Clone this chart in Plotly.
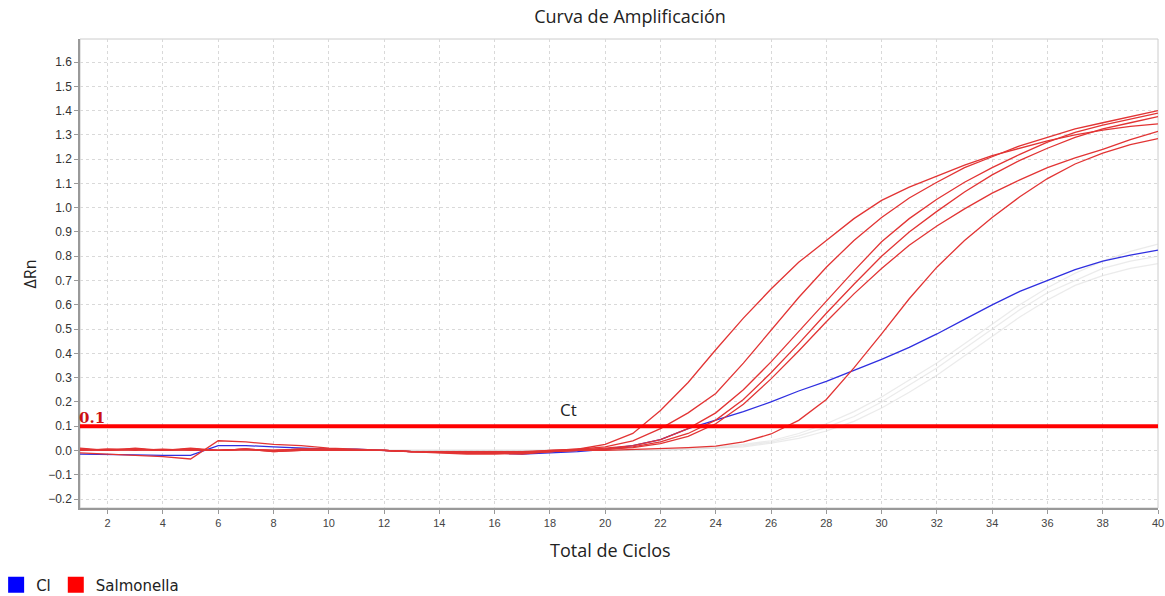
import plotly.graph_objects as go

cycles = list(range(1, 41))

salm_a = [0.01, 0.0, 0.01, 0.0, 0.01, 0.0, 0.005, 0.0, 0.005, 0.005, 0.0, 0.0, -0.005, -0.005, -0.008, -0.008, -0.005, 0.0, 0.005,
          0.025, 0.07, 0.165, 0.28, 0.415, 0.545, 0.665, 0.775, 0.865, 0.955, 1.03, 1.085, 1.13, 1.175, 1.215, 1.245, 1.275, 1.30, 1.32, 1.335, 1.345]
salm_b = [0.005, 0.0, 0.005, 0.0, 0.005, 0.0, 0.005, -0.005, 0.0, 0.005, 0.0, 0.0, -0.005, -0.01, -0.012, -0.012, -0.01, -0.005, 0.005,
          0.015, 0.04, 0.09, 0.155, 0.235, 0.36, 0.495, 0.63, 0.755, 0.865, 0.96, 1.04, 1.105, 1.165, 1.21, 1.255, 1.29, 1.325, 1.35, 1.375, 1.40]
salm_c = [-0.01, -0.015, -0.02, -0.025, -0.035, 0.04, 0.035, 0.025, 0.02, 0.01, 0.005, 0.0, -0.005, -0.01, -0.015, -0.015, -0.012, -0.005, 0.0,
          0.01, 0.02, 0.045, 0.09, 0.155, 0.25, 0.365, 0.49, 0.615, 0.74, 0.86, 0.955, 1.035, 1.105, 1.165, 1.22, 1.27, 1.31, 1.34, 1.365, 1.39]
salm_d = [0.0, 0.005, 0.0, 0.005, 0.0, 0.0, 0.005, 0.0, 0.005, 0.005, 0.0, 0.0, -0.005, -0.005, -0.01, -0.01, -0.015, -0.005, 0.0,
          0.005, 0.015, 0.035, 0.07, 0.125, 0.21, 0.32, 0.44, 0.565, 0.685, 0.80, 0.90, 0.985, 1.065, 1.135, 1.195, 1.245, 1.29, 1.325, 1.35, 1.375]
salm_e = [0.0, 0.005, 0.005, 0.0, 0.005, 0.0, 0.005, 0.0, 0.005, 0.005, 0.0, 0.0, -0.005, -0.005, -0.01, -0.01, -0.008, 0.0, 0.005,
          0.005, 0.012, 0.028, 0.058, 0.11, 0.19, 0.295, 0.41, 0.53, 0.645, 0.75, 0.845, 0.925, 0.995, 1.06, 1.115, 1.165, 1.205, 1.24, 1.28, 1.315]
salm_f = [0.005, 0.0, 0.005, 0.0, 0.005, 0.0, 0.005, -0.005, 0.0, 0.0, 0.0, 0.0, -0.005, -0.005, -0.008, -0.01, -0.01, -0.005, 0.0,
          0.0, 0.003, 0.008, 0.012, 0.018, 0.035, 0.068, 0.124, 0.21, 0.34, 0.48, 0.625, 0.755, 0.865, 0.96, 1.045, 1.12, 1.18, 1.225, 1.26, 1.285]
ci_blue = [-0.015, -0.015, -0.018, -0.02, -0.02, 0.02, 0.02, 0.015, 0.01, 0.005, 0.005, 0.0, -0.005, -0.005, -0.01, -0.01, -0.015, -0.01, -0.005,
           0.005, 0.02, 0.045, 0.09, 0.125, 0.16, 0.20, 0.245, 0.285, 0.33, 0.375, 0.425, 0.48, 0.54, 0.60, 0.655, 0.70, 0.745, 0.78, 0.805, 0.825]
faint_1 = [0.0] * 22 + [0.01, 0.015, 0.025, 0.04, 0.07, 0.11, 0.16, 0.22, 0.29, 0.36, 0.44, 0.52, 0.60, 0.67, 0.73, 0.78, 0.82, 0.85]
faint_2 = [0.0] * 22 + [0.005, 0.01, 0.02, 0.035, 0.06, 0.095, 0.14, 0.20, 0.27, 0.34, 0.42, 0.50, 0.58, 0.65, 0.70, 0.75, 0.78, 0.80]
faint_3 = [0.0] * 22 + [0.005, 0.01, 0.015, 0.03, 0.05, 0.08, 0.12, 0.175, 0.24, 0.31, 0.39, 0.47, 0.55, 0.62, 0.68, 0.72, 0.75, 0.77]

threshold = 0.1
x_ticks = list(range(2, 41, 2))
y_ticks = [-0.2, -0.1, 0.0, 0.1, 0.2, 0.3, 0.4, 0.5, 0.6, 0.7, 0.8, 0.9, 1.0, 1.1, 1.2, 1.3, 1.4, 1.5, 1.6]

fig = go.Figure()

for s in [faint_1, faint_2, faint_3]:
    fig.add_trace(go.Scatter(x=cycles, y=s, mode="lines", line=dict(color="rgba(215,215,215,0.5)", width=1.2),
                             showlegend=False, hoverinfo="skip"))

fig.add_trace(go.Scatter(x=cycles, y=ci_blue, mode="lines", line=dict(color="#2f2fe0", width=1.3),
                         name="Cl", showlegend=False))
for s in [salm_a, salm_b, salm_c, salm_d, salm_e, salm_f]:
    fig.add_trace(go.Scatter(x=cycles, y=s, mode="lines", line=dict(color="#e23434", width=1.3),
                             name="Salmonella", showlegend=False))

# threshold line
fig.add_trace(go.Scatter(x=[cycles[0], cycles[-1]], y=[threshold, threshold], mode="lines",
                         line=dict(color="#ff0000", width=4), showlegend=False, hoverinfo="skip"))

# legend entries (square swatches)
fig.add_trace(go.Scatter(x=[None], y=[None], mode="markers", name="Cl",
                         marker=dict(symbol="square", size=20, color="#0000ff")))
fig.add_trace(go.Scatter(x=[None], y=[None], mode="markers", name="Salmonella",
                         marker=dict(symbol="square", size=20, color="#ff0000")))

fig.add_annotation(x=18.66, y=threshold, yshift=17, text="Ct", showarrow=False,
                   font=dict(family="Open Sans, Arial", size=17, color="#222222"))
fig.add_annotation(x=1, y=threshold, xanchor="left", yanchor="bottom", yshift=-3, xshift=-3, text="<b>0.1</b>",
                   showarrow=False,
                   font=dict(family="DejaVu Serif, Liberation Serif", size=15, color="#cc1111"))
# axis titles
fig.add_annotation(xref="paper", yref="paper", x=0.4917, y=0, yshift=-42, yanchor="middle", text="Total de Ciclos",
                   showarrow=False, font=dict(family="Open Sans, Arial", size=18, color="#222222"))
fig.add_annotation(xref="paper", yref="paper", x=-0.0464, y=0.5, xanchor="center", yanchor="middle", text="ΔRn",
                   textangle=-90, showarrow=False, font=dict(family="Open Sans, Arial", size=16, color="#222222"))

fig.update_layout(
    width=1165, height=596,
    margin=dict(l=80, r=7, t=39, b=88, autoexpand=False),
    paper_bgcolor="white", plot_bgcolor="white",
    title=dict(text="Curva de Amplificación", x=0.5408, xanchor="center", y=0.9715, yanchor="middle",
               font=dict(family="Open Sans, Arial", size=18, color="#222222")),
    legend=dict(orientation="h", xref="paper", yref="paper", x=-0.0778, y=-0.164,
                xanchor="left", yanchor="middle", font=dict(family="DejaVu Sans, Arial", size=15, color="#222222"),
                itemsizing="trace", tracegroupgap=0),
    showlegend=True,
)
fig.update_xaxes(range=[1, 40], tickvals=x_ticks, ticks="outside", ticklen=4, tickcolor="#999999",
                 automargin=False,
                 tickfont=dict(family="Liberation Sans, Arial", size=11, color="#444444"),
                 showgrid=True, gridcolor="#d9d9d9", griddash="dot", gridwidth=1,
                 showline=True, linecolor="#999999", linewidth=1.5, mirror=False, zeroline=False)
fig.update_yaxes(range=[-0.237, 1.695], tickvals=y_ticks, tickformat=".1f", ticks="outside", ticklen=4, tickcolor="#999999",
                 automargin=False,
                 tickfont=dict(family="Liberation Sans, Arial", size=12, color="#333333"),
                 showgrid=True, gridcolor="#d9d9d9", griddash="dot", gridwidth=1,
                 showline=True, linecolor="#999999", linewidth=1.5, zeroline=False)
# light frame on top/right
fig.add_shape(type="rect", xref="paper", yref="paper", x0=0, y0=0, x1=1, y1=1,
              line=dict(color="#cccccc", width=1), layer="below")

fig.write_html("out.html", config={"displayModeBar": False},
               post_script="document.body.style.margin='0';document.body.style.overflow='hidden';")
